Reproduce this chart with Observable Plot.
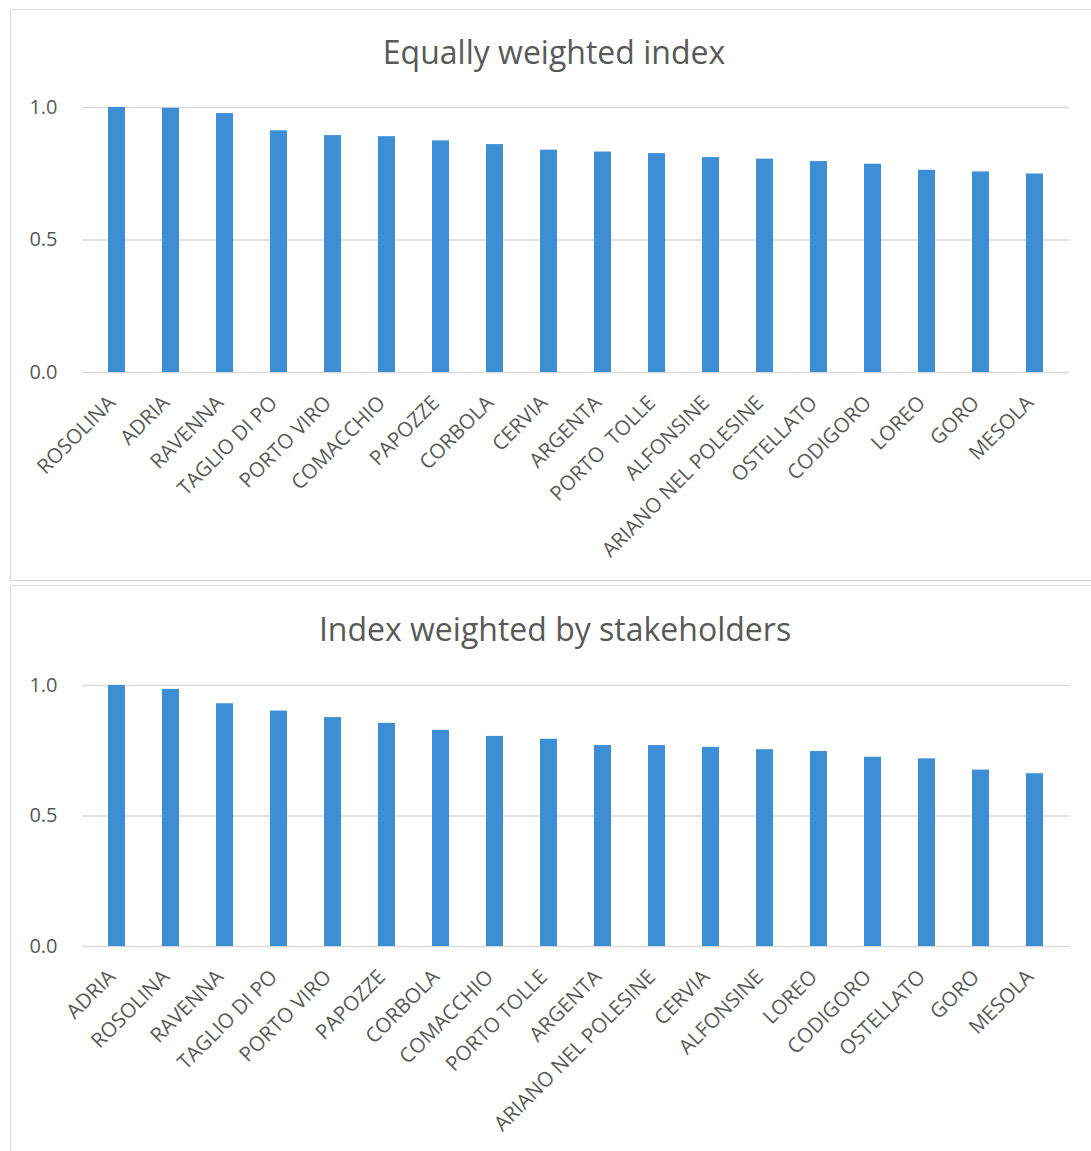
<!DOCTYPE html>
<html>
<head>
<meta charset="utf-8">
<script src="https://cdn.jsdelivr.net/npm/d3@7"></script>
<script src="https://cdn.jsdelivr.net/npm/@observablehq/plot@0.6"></script>
<style>
  html, body { margin: 0; padding: 0; background: #fff; }
  body { position: relative; width: 1091px; height: 1151px; overflow: hidden; font-family: "Open Sans", sans-serif; }
  .panel { position: absolute; border: 1.5px solid #d9d9d9; box-sizing: border-box; background: #fff; }
  .title { position: absolute; width: 800px; text-align: center; color: #595959; font-size: 32px; font-weight: 400; line-height: 1; white-space: nowrap; }
  .chart { position: absolute; left: 0; }
  .chart svg text { white-space: pre; }
</style>
</head>
<body>
<div class="panel" style="left:10px; top:9px; width:1100px; height:572px;"></div>
<div class="panel" style="left:10px; top:585px; width:1100px; height:600px;"></div>
<div class="title" id="t1" style="left:154px; top:36px;"></div>
<div class="title" id="t2" style="left:155px; top:613px;"></div>
<div class="chart" id="c1" style="top:80px;"></div>
<div class="chart" id="c2" style="top:650px;"></div>
<script>
// ---- data ----
const titleTop = "Equally weighted index";
const titleBottom = "Index weighted by stakeholders";

const topNames = ["ROSOLINA", "ADRIA", "RAVENNA", "TAGLIO DI PO", "PORTO VIRO", "COMACCHIO", "PAPOZZE", "CORBOLA", "CERVIA", "ARGENTA", "PORTO  TOLLE", "ALFONSINE", "ARIANO NEL POLESINE", "OSTELLATO", "CODIGORO", "LOREO", "GORO", "MESOLA"];
const topValues = [1.000, 0.997, 0.977, 0.912, 0.894, 0.890, 0.874, 0.860, 0.839, 0.832, 0.826, 0.811, 0.805, 0.796, 0.786, 0.763, 0.757, 0.749];

const bottomNames = ["ADRIA", "ROSOLINA", "RAVENNA", "TAGLIO DI PO", "PORTO VIRO", "PAPOZZE", "CORBOLA", "COMACCHIO", "PORTO TOLLE", "ARGENTA", "ARIANO NEL POLESINE", "CERVIA", "ALFONSINE", "LOREO", "CODIGORO", "OSTELLATO", "GORO", "MESOLA"];
const bottomValues = [1.000, 0.985, 0.930, 0.902, 0.877, 0.855, 0.828, 0.805, 0.794, 0.770, 0.770, 0.763, 0.754, 0.747, 0.725, 0.719, 0.676, 0.662];

const yTicks = [0, 0.5, 1.0];

// ---- styles ----
const barColor = "#3e8ed5";
const textColor = "#595959";
const gridColor = "#d9d9d9";

function makeChart(names, values, marginTop, marginBottom) {
  const data = names.map((n, i) => ({name: n, value: values[i]}));
  return Plot.plot({
    width: 1091,
    height: 500,
    marginLeft: 82,
    marginRight: 22,
    marginTop,
    marginBottom,
    style: {fontFamily: "'Open Sans', sans-serif", color: textColor, background: "transparent", overflow: "visible"},
    x: {domain: names, paddingInner: 0.69, paddingOuter: 0.32, label: null},
    y: {domain: [0, 1], label: null},
    marks: [
      Plot.gridY(yTicks, {stroke: gridColor, strokeOpacity: 1, strokeWidth: 1.5}),
      Plot.barY(data, {x: "name", y: "value", fill: barColor}),
      Plot.axisX({tickRotate: -45, tickSize: 0, tickPadding: 14, dy: 13, dx: -5, fontSize: 20.5, fill: textColor, label: null}),
      Plot.axisY(yTicks, {tickSize: 0, tickPadding: 25, fontSize: 20, fill: textColor, tickFormat: d3.format(".1f"), label: null})
    ]
  });
}

document.getElementById("t1").textContent = titleTop;
document.getElementById("t2").textContent = titleBottom;
document.getElementById("c1").appendChild(makeChart(topNames, topValues, 27, 208));
document.getElementById("c2").appendChild(makeChart(bottomNames, bottomValues, 35, 204));
</script>
</body>
</html>
